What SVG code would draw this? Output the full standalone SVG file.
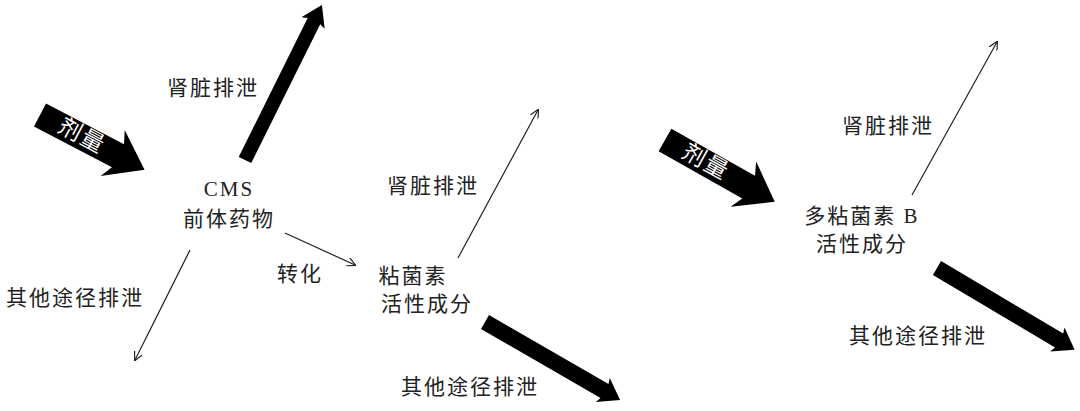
<svg xmlns="http://www.w3.org/2000/svg" width="1080" height="411" viewBox="0 0 1080 411">
<defs>
<style>
text{font-family:"Liberation Serif","Noto Sans CJK SC",serif;font-size:21px;fill:#222;text-anchor:middle;letter-spacing:2px}
.w{fill:#fff;font-size:23px;dominant-baseline:central}
.thin{stroke:#222;stroke-width:1.2;fill:none;marker-end:url(#ah)}
</style>
<marker id="ah" viewBox="0 0 10 10" refX="9" refY="5" markerWidth="9" markerHeight="9" markerUnits="userSpaceOnUse" orient="auto"><path d="M0,0 L10,5 L0,10" fill="none" stroke="#222" stroke-width="1.3"/></marker>
</defs>
<rect width="1080" height="411" fill="#fff"/>
<g id="connectors">
<polygon transform="translate(40,115) rotate(27.6)" points="0,-13 88,-13 82,-26 118,0 82,26 88,13 0,13"/>
<polygon transform="translate(245,160) rotate(-63.6)" points="0,-7 155,-7 153,-13 173,0 153,13 155,7 0,7"/>
<polygon transform="translate(485,322) rotate(30)" points="0,-8 138,-8 136,-14 156,0 136,14 138,8 0,8"/>
<polygon transform="translate(665,140) rotate(29.4)" points="0,-13 96,-13 90,-26 126,0 90,26 96,13 0,13"/>
<polygon transform="translate(937,268) rotate(30.7)" points="0,-8 142,-8 140,-14 160,0 140,14 142,8 0,8"/>
<line class="thin" x1="190" y1="250" x2="135" y2="360"/>
<line class="thin" x1="285" y1="233" x2="355" y2="265"/>
<line class="thin" x1="458" y1="258" x2="538" y2="110"/>
<line class="thin" x1="912" y1="195" x2="997" y2="42"/>
</g>
<g id="dose1"><text class="w" transform="translate(82,136) rotate(28)">剂量</text></g>
<g id="dose2"><text class="w" transform="translate(706,162) rotate(29)">剂量</text></g>
<g id="cms"><text x="229" y="196">CMS</text><text x="229" y="226">前体药物</text></g>
<g id="kidney1"><text x="213" y="95">肾脏排泄</text></g>
<g id="other1"><text x="75" y="305">其他途径排泄</text></g>
<g id="convert"><text x="300" y="281">转化</text></g>
<g id="colistin"><text x="413" y="283">粘菌素</text><text x="427" y="311">活性成分</text></g>
<g id="kidney2"><text x="433" y="193">肾脏排泄</text></g>
<g id="other2"><text x="470" y="394">其他途径排泄</text></g>
<g id="polymyxin"><text x="862" y="223">多粘菌素 B</text><text x="862" y="251">活性成分</text></g>
<g id="kidney3"><text x="888" y="133">肾脏排泄</text></g>
<g id="other3"><text x="918" y="343">其他途径排泄</text></g>
</svg>
